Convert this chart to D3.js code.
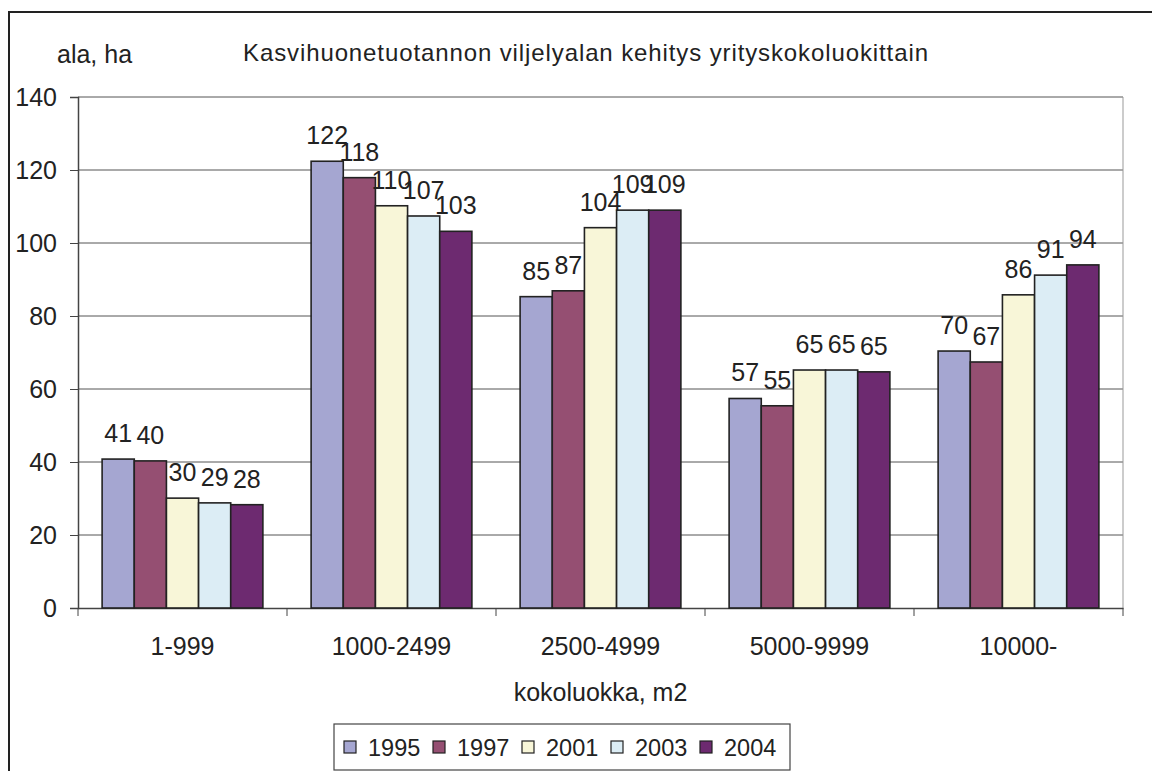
<!DOCTYPE html>
<html>
<head>
<meta charset="utf-8">
<script src="https://cdn.jsdelivr.net/npm/d3@7"></script>
<style>
  body { margin: 0; background: #fff; }
  text { font-family: "Liberation Sans", Arial, sans-serif; fill: #222; }
</style>
</head>
<body>
<div id="chart"></div>
<script>
// data
var categories = ["1-999", "1000-2499", "2500-4999", "5000-9999", "10000-"];
var years = ["1995", "1997", "2001", "2003", "2004"];
var v1995 = [40.8, 122.4, 85.3, 57.4, 70.4];
var v1997 = [40.3, 117.9, 86.9, 55.4, 67.4];
var v2001 = [30.1, 110.2, 104.2, 65.2, 85.8];
var v2003 = [28.8, 107.4, 109.0, 65.2, 91.2];
var v2004 = [28.3, 103.2, 109.0, 64.7, 94.0];
var yTicks = [0, 20, 40, 60, 80, 100, 120, 140];
var colors = ["#a5a6d1", "#954f72", "#f8f6d8", "#dcedf5", "#6d2a70"];

var series = [v1995, v1997, v2001, v2003, v2004];

var W = 1152, H = 771;
var margin = {top: 97, right: 29, bottom: 163, left: 78},
    width = W - margin.left - margin.right,
    height = H - margin.top - margin.bottom;

var fs = "25px";

var root = d3.select("#chart")
  .append("svg")
    .attr("width", W)
    .attr("height", H);

// outer frame
root.append("rect")
  .attr("x", 9).attr("y", 12)
  .attr("width", W + 20).attr("height", H + 20)
  .attr("fill", "none")
  .attr("stroke", "#222")
  .attr("stroke-width", 2);

var svg = root.append("g")
  .attr("transform", `translate(${margin.left},${margin.top})`);

// scales
var x0 = d3.scaleBand().domain(categories).range([0, width]);
var barW = x0.bandwidth() / 6.5;
var x1 = d3.scaleBand().domain(years)
  .range([barW * 0.75, x0.bandwidth() - barW * 0.75]);
var y = d3.scaleLinear().domain([0, 140]).range([height, 0]);

// gridlines
svg.selectAll(".grid")
  .data(yTicks.slice(1))
  .join("line")
    .attr("class", "grid")
    .attr("x1", 0).attr("x2", width)
    .attr("y1", d => y(d)).attr("y2", d => y(d))
    .attr("stroke", "#555")
    .attr("stroke-width", 1);

// right border of plot
svg.append("line")
  .attr("x1", width).attr("x2", width)
  .attr("y1", 0).attr("y2", height)
  .attr("stroke", "#999");

// y axis
var yAxis = d3.axisLeft(y).tickValues(yTicks).tickSize(8).tickPadding(13);
var ya = svg.append("g").call(yAxis);
ya.select(".domain").attr("stroke", "#444").attr("stroke-width", 1.5);
ya.selectAll(".tick line").attr("stroke", "#444");
ya.selectAll(".tick text")
  .style("font-size", fs)
  .attr("fill", "#222");

// x axis
var xAxis = d3.axisBottom(x0).tickSize(0).tickPadding(0);
var xa = svg.append("g")
  .attr("transform", `translate(0,${height})`)
  .call(xAxis);
xa.select(".domain").attr("stroke", "#444").attr("stroke-width", 1.5);
xa.selectAll(".tick text")
  .attr("y", 47)
  .attr("dy", null)
  .style("font-size", fs)
  .attr("fill", "#222");

// category tick marks between groups
svg.selectAll(".ctick")
  .data(d3.range(categories.length + 1))
  .join("line")
    .attr("class", "ctick")
    .attr("x1", i => i * x0.step()).attr("x2", i => i * x0.step())
    .attr("y1", height).attr("y2", height + 8)
    .attr("stroke", "#444");

// bars
var groups = svg.selectAll(".group")
  .data(categories)
  .join("g")
    .attr("class", "group")
    .attr("transform", d => `translate(${x0(d)},0)`);

groups.selectAll("rect")
  .data((c, ci) => years.map((yr, si) => ({year: yr, si: si, value: series[si][ci]})))
  .join("rect")
    .attr("x", d => x1(d.year))
    .attr("y", d => y(d.value))
    .attr("width", x1.bandwidth())
    .attr("height", d => height - y(d.value))
    .attr("fill", d => colors[d.si])
    .attr("stroke", "#222")
    .attr("stroke-width", 1.6);

// value labels
groups.selectAll(".lbl")
  .data((c, ci) => years.map((yr, si) => ({year: yr, si: si, value: series[si][ci]})))
  .join("text")
    .attr("class", "lbl")
    .attr("x", d => x1(d.year) + x1.bandwidth() / 2)
    .attr("y", d => y(d.value) - 17)
    .attr("text-anchor", "middle")
    .style("font-size", fs)
    .text(d => Math.round(d.value));

// titles
root.append("text")
  .attr("x", 57).attr("y", 63)
  .style("font-size", fs)
  .text("ala, ha");

root.append("text")
  .attr("x", 243).attr("y", 61)
  .attr("textLength", 685)
  .attr("lengthAdjust", "spacing")
  .style("font-size", "24px")
  .text("Kasvihuonetuotannon viljelyalan kehitys yrityskokoluokittain");

root.append("text")
  .attr("x", margin.left + width / 2).attr("y", 701)
  .attr("text-anchor", "middle")
  .style("font-size", fs)
  .text("kokoluokka, m2");

// legend
var legend = root.append("g").attr("transform", "translate(334,724)");
legend.append("rect")
  .attr("width", 456).attr("height", 46)
  .attr("fill", "#fff")
  .attr("stroke", "#444")
  .attr("stroke-width", 1.2);

var items = legend.selectAll(".item")
  .data(years)
  .join("g")
    .attr("class", "item")
    .attr("transform", (d, i) => `translate(${10 + i * 89},0)`);

items.append("rect")
  .attr("y", 17).attr("width", 12).attr("height", 12)
  .attr("fill", (d, i) => colors[i])
  .attr("stroke", "#222")
  .attr("stroke-width", 1.2);

items.append("text")
  .attr("x", 24).attr("y", 32)
  .style("font-size", "23.5px")
  .text(d => d);
</script>
</body>
</html>
